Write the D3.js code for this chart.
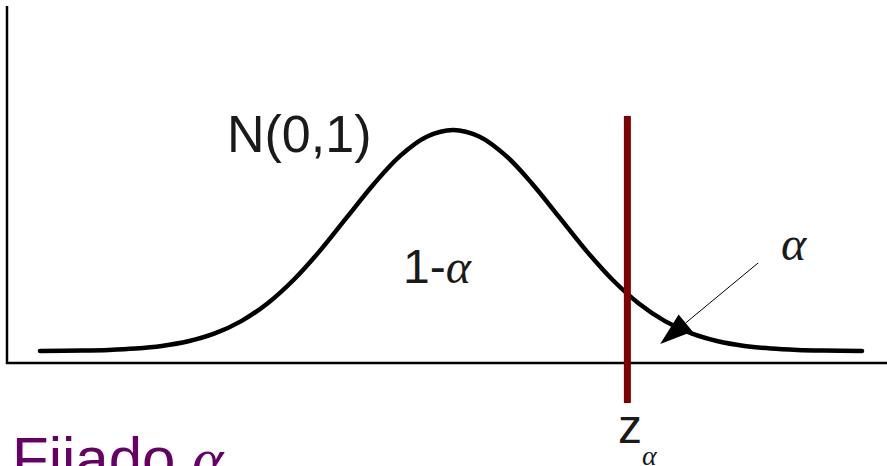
<!DOCTYPE html>
<html lang="es">
<head>
  <meta charset="UTF-8">
  <title>Fijado alfa - N(0,1)</title>
  <script src="https://d3js.org/d3.v7.min.js"></script>
  <style>
    body {
      margin: 0;
      background: #fff;
      overflow: hidden;
    }
    svg text {
      font-family: "Liberation Sans", Arial, sans-serif;
      fill: #1a1a1a;
    }
    .greek {
      font-family: "Liberation Serif", "DejaVu Serif", serif;
      font-style: italic;
    }
  </style>
</head>
<body>
  <div id="chart"></div>
  <script>
    // curva N(0,1): valores z y densidad
    const zValues = [-3.9, -3.5, -3.25, -3, -2.75, -2.5, -2.25, -2, -1.75, -1.5, -1.25, -1, -0.75, -0.5, -0.25,
                     0, 0.25, 0.5, 0.75, 1, 1.25, 1.5, 1.75, 2, 2.25, 2.5, 2.75, 3, 3.25, 3.5, 3.86];
    const density = [0.0002, 0.0009, 0.0020, 0.0044, 0.0091, 0.0175, 0.0317, 0.0540, 0.0863, 0.1295, 0.1826, 0.2420, 0.3011, 0.3521, 0.3867,
                     0.3989, 0.3867, 0.3521, 0.3011, 0.2420, 0.1826, 0.1295, 0.0863, 0.0540, 0.0317, 0.0175, 0.0091, 0.0044, 0.0020, 0.0009, 0.0002];
    const zAlpha = 1.645;
    const labels = { dist: "N(0,1)", center: "1-", alpha: "α", z: "z", title: "Fijado " };

    const W = 887, H = 466;

    const svg = d3.select("#chart")
      .append("svg")
      .attr("width", W)
      .attr("height", H);

    const x = d3.scaleLinear()
      .domain([-3.9, 3.86])
      .range([40, 862]);

    const y = d3.scaleLinear()
      .domain([0, 0.3989])
      .range([351, 130]);

    // ejes (sin marcas)
    svg.append("line")
      .attr("x1", 7).attr("x2", 7)
      .attr("y1", 6).attr("y2", 364)
      .attr("stroke", "#000").attr("stroke-width", 2.5);
    svg.append("line")
      .attr("x1", 6).attr("x2", W)
      .attr("y1", 363).attr("y2", 363)
      .attr("stroke", "#000").attr("stroke-width", 2.5);

    const pts = zValues.map((z, i) => [z, density[i]]);
    const line = d3.line()
      .x(d => x(d[0]))
      .y(d => y(d[1]))
      .curve(d3.curveCatmullRom);

    svg.append("path")
      .datum(pts)
      .attr("d", line)
      .attr("fill", "none")
      .attr("stroke", "#000")
      .attr("stroke-width", 4.5)
      .attr("stroke-linecap", "round");

    // linea critica z_alpha
    svg.append("line")
      .attr("x1", x(zAlpha)).attr("x2", x(zAlpha))
      .attr("y1", 116).attr("y2", 403)
      .attr("stroke", "#800000")
      .attr("stroke-width", 7);

    // flecha hacia la cola
    const from = [x(2.88), y(0.159)];
    const tip = [x(1.955), y(0.0126)];
    const ang = Math.atan2(from[1] - tip[1], from[0] - tip[0]);
    const hl = 33, hw = 11;
    const bx = tip[0] + hl * Math.cos(ang), by = tip[1] + hl * Math.sin(ang);
    svg.append("line")
      .attr("x1", from[0]).attr("y1", from[1])
      .attr("x2", bx).attr("y2", by)
      .attr("stroke", "#000").attr("stroke-width", 1);
    svg.append("path")
      .attr("d", `M${tip[0]},${tip[1]}L${bx - hw * Math.sin(ang)},${by + hw * Math.cos(ang)}L${bx + hw * Math.sin(ang)},${by - hw * Math.cos(ang)}Z`)
      .attr("fill", "#000");

    // textos
    svg.append("text")
      .attr("x", 227).attr("y", 152)
      .style("font-size", "52px")
      .text(labels.dist);

    const c = svg.append("text")
      .attr("x", 403).attr("y", 283)
      .style("font-size", "48px")
      .text(labels.center);
    c.append("tspan").attr("class", "greek").text(labels.alpha);

    svg.append("text")
      .attr("class", "greek")
      .attr("x", 781).attr("y", 260)
      .style("font-size", "48px")
      .text(labels.alpha);

    const zt = svg.append("text")
      .attr("x", 618).attr("y", 443)
      .style("font-size", "48px")
      .text(labels.z);
    zt.append("tspan")
      .attr("class", "greek")
      .attr("dx", 0).attr("dy", 22)
      .style("font-size", "28px")
      .text(labels.alpha);

    const t = svg.append("text")
      .attr("x", 12).attr("y", 479)
      .style("font-size", "60px")
      .style("fill", "#660066")
      .text(labels.title);
    t.append("tspan")
      .attr("class", "greek")
      .style("fill", "#660066")
      .text(labels.alpha);
  </script>
</body>
</html>
